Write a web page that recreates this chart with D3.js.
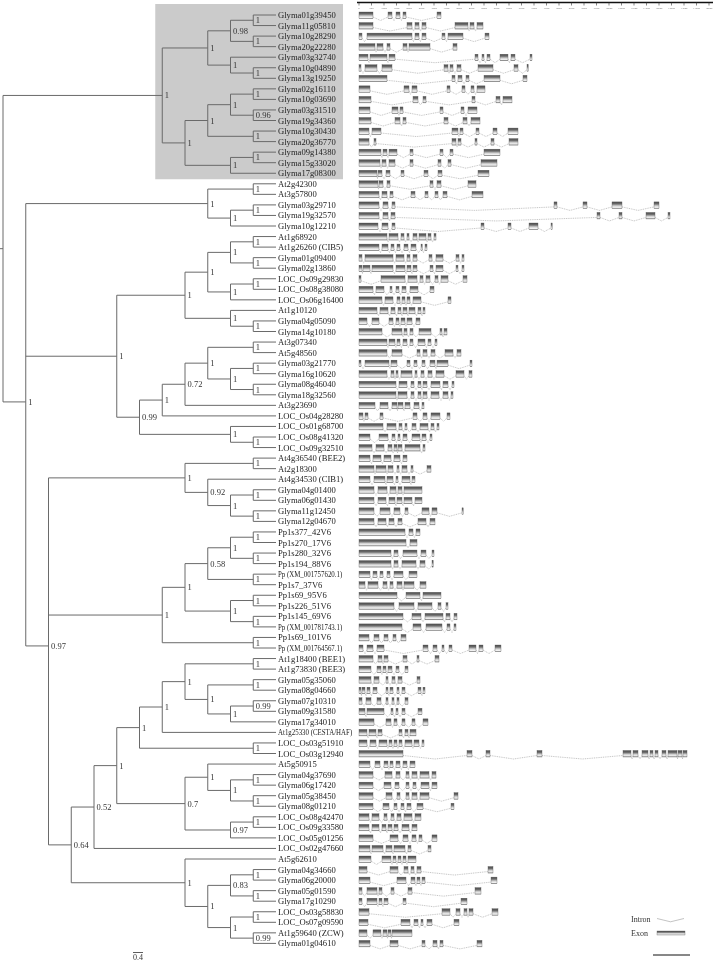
<!DOCTYPE html>
<html><head><meta charset="utf-8">
<script src="https://cdn.jsdelivr.net/npm/d3@7"></script>
<style>
html,body{margin:0;padding:0;background:#fff;}
svg{display:block;will-change:transform;}
text{font-family:"Liberation Serif","Times New Roman",serif;-webkit-font-smoothing:antialiased;}
</style></head>
<body>
<svg id="chart" width="720" height="961"></svg>
<script>
// ---------------- DATA ----------------
const leafNames = [
"Glyma01g39450","Glyma11g05810","Glyma10g28290","Glyma20g22280","Glyma03g32740","Glyma10g04890","Glyma13g19250","Glyma02g16110","Glyma10g03690","Glyma03g31510","Glyma19g34360","Glyma10g30430","Glyma20g36770","Glyma09g14380","Glyma15g33020","Glyma17g08300",
"At2g42300","At3g57800","Glyma03g29710","Glyma19g32570","Glyma10g12210",
"At1g68920","At1g26260 (CIB5)","Glyma01g09400","Glyma02g13860","LOC_Os09g29830","LOC_Os08g38080","LOC_Os06g16400","At1g10120","Glyma04g05090","Glyma14g10180",
"At3g07340","At5g48560","Glyma03g21770","Glyma16g10620","Glyma08g46040","Glyma18g32560","At3g23690","LOC_Os04g28280","LOC_Os01g68700","LOC_Os08g41320","LOC_Os09g32510",
"At4g36540 (BEE2)","At2g18300","At4g34530 (CIB1)","Glyma04g01400","Glyma06g01430","Glyma11g12450","Glyma12g04670",
"Pp1s377_42V6","Pp1s270_17V6","Pp1s280_32V6","Pp1s194_88V6","Pp (XM_001757620.1)","Pp1s7_37V6","Pp1s69_95V6","Pp1s226_51V6","Pp1s145_69V6","Pp (XM_001781743.1)","Pp1s69_101V6","Pp (XM_001764567.1)",
"At1g18400 (BEE1)","At1g73830 (BEE3)","Glyma05g35060","Glyma08g04660","Glyma07g10310","Glyma09g31580","Glyma17g34010","At1g25330 (CESTA/HAF)","LOC_Os03g51910","LOC_Os03g12940",
"At5g50915","Glyma04g37690","Glyma06g17420","Glyma05g38450","Glyma08g01210","LOC_Os08g42470","LOC_Os09g33580","LOC_Os05g01256","LOC_Os02g47660",
"At5g62610","Glyma04g34660","Glyma06g20000","Glyma05g01590","Glyma17g10290","LOC_Os03g58830","LOC_Os07g09590","At1g59640 (ZCW)","Glyma01g04610"
];

// Tree topology (leaf = index into leafNames) with posterior support values
const cladeG1 = "(((0,1)1,(2,3)1)0.98,(4,(5,6)1)1)1";
const cladeG2 = "((((7,8)1,(9,10)0.96)1,(11,12)1)1,((13,14)1,15)1)1";
const cladeB  = "((16,17)1,((18,19)1,20)1)1";
const cladeC1 = "((((21,22)1,(23,24)1)1,((25,26)1,27)1)1,(28,(29,30)1)1)1";
const cladeC2 = "(((((31,32)1,((33,34)1,(35,36)1)1)1,37)0.72,38)1,(39,(40,41)1)1)0.99";
const cladeE  = "((42,43)1,(44,((45,46)1,(47,48)1)1)0.92)1";
const cladeF  = "(((((49,50)1,(51,52)1)1,(53,54)1)0.58,((55,56)1,(57,58)1)1)1,(59,60)1)1";
const cladeH1a1 = "((((61,62)1,((63,64)1,((65,66)0.99,67)1)1)1,68)1,(69,70)1)1";
const cladeH1a2 = "((71,((72,73)1,(74,75)1)1)1,((76,77)1,78)0.97)0.7";
const cladeH2 = "(80,(((81,82)1,(83,84)1)0.83,((85,86)1,(87,88)0.99)1)1)1";
const treeNewick = `((${cladeG1},${cladeG2})1,(${cladeB},(${cladeC1},${cladeC2})1,(${cladeE},${cladeF},(((${cladeH1a1},${cladeH1a2})1,79)0.52,${cladeH2})0.64)0.97)1)`;

// Gene structures: exon [start,end] pairs in bp, one list per leaf (same order)
const geneExons = [
[0,560,1160,1320,1480,1640,1760,1880,3120,3280],
[0,560,1920,2120,2240,2400,2520,2680,3840,4360,4440,4600,4720,4960],
[0,120,320,2120,2240,2400,2520,2680,3320,3440,3560,4160,5040,5200],
[0,640,720,960,1120,1240,1760,1920,2000,2840,3760,3920],
[0,360,440,1120,1200,1440,4640,4760,4920,5000,5120,5240,5640,5960,6080,6240,6840,6920],
[0,80,240,720,920,1320,3400,3560,3640,3760,3920,4080,4760,5360,6200,6360,6720,6760],
[0,1120,3720,3840,3960,4120,4280,4400,5000,5640,6560,6720],
[0,440,1800,2000,2120,2320,3520,3640,4120,4240,4480,4600,4720,5040],
[0,480,2160,2360,2560,2680,4520,4640,5480,5640,5760,6120],
[0,440,1320,1560,1640,1760,3240,3360,4080,4200,4360,4720],
[0,480,1440,1640,1760,1880,3400,3560,4160,4320,4480,4840],
[0,400,520,880,3720,3960,4040,4160,4680,4800,5360,5520,5960,6360],
[0,400,600,680,3720,3880,3960,4080,4640,4720,5280,5400,6000,6360],
[0,880,960,1120,1200,1520,2040,2160,3240,3360,3640,3760,5000,5640],
[0,840,920,1080,1200,1440,2040,2160,3160,3280,3560,3680,4880,5520],
[0,720,760,920,1080,1240,1680,1800,2600,2760,3160,3320,4760,5200],
[0,760,800,960,1120,1240,2840,2960,3120,3280,4360,4680],
[0,800,920,1120,1240,1360,2080,2240,2640,2760,3040,3160,3360,3520,4520,4960],
[0,800,960,1160,1320,1440,7800,7920,8960,9120,10120,10520,11800,12000],
[0,800,960,1160,1280,1440,9520,9640,10400,10520,11480,11840,12360,12440],
[0,760,920,1160,1320,1440,4880,5000,5960,6080,6800,7160,7680,7720],
[0,1120,1200,1560,1680,1800,1920,2000,2160,2320,2400,2680,2760,2880,3000,3080],
[0,800,920,1160,1280,1400,1520,1640,1800,1960,2080,2280,2480,2520,2640,2720],
[0,120,240,1360,1480,1800,1920,2040,2160,2320,2800,2920,3080,3360,3880,4000,4120,4200],
[0,120,160,440,520,1360,1480,1840,1920,2080,2160,2320,2840,2960,3080,3360,3880,3960,4120,4200],
[0,80,880,1840,1960,2320,2440,2560,2680,2840,3040,3160,3280,3560,4160,4320],
[0,560,680,1000,1240,1320,1480,1600,1720,1880,2040,2360,2840,3000],
[0,920,1040,1360,1520,1640,1720,1840,1920,2040,2160,2480,3560,3680],
[0,720,840,1160,1280,1440,1560,1680,1760,1920,2000,2240,2360,2480,2560,2640],
[0,320,520,800,1200,1360,1480,1600,1680,1840,1920,2120,2280,2440],
[0,920,1320,1720,1800,1920,2040,2160,2400,2880,3240,3320,3400,3520],
[0,1120,1200,1440,1520,1640,1760,1920,2040,2160,2360,2640,2760,2880,3040,3120],
[0,1120,1320,1720,2320,2440,2560,2720,2880,3040,3440,3760,3920,4080],
[0,80,240,1200,1280,1520,1920,2040,2200,2320,2520,2640,2840,3040,3120,3560,4440,4520],
[0,1120,1280,1400,1480,1560,1680,2120,2240,2320,2480,2600,2760,2920,3080,3400,3880,4200,4400,4520],
[0,1480,1600,1920,2080,2200,2360,2480,2560,2720,2880,3240,3360,3560,3720,3800],
[0,1480,1560,1920,2080,2200,2360,2480,2560,2720,2880,3200,3360,3560,3680,3760],
[0,640,840,1160,1320,1520,1560,1760,1840,2040,2200,2400,2520,2600],
[0,160,240,360,840,960,2160,2320,2560,2720,2880,3240,3520,3640],
[0,960,1120,1480,1600,1720,1840,1920,2120,2280,2440,2760,2880,3000,3120,3200],
[0,440,800,1160,1320,1440,1560,1640,1760,1920,2120,2440,2520,2680,2840,2920],
[0,520,680,1000,1160,1320,1400,1520,1560,1720,1840,2440,2560,2640],
[0,440,560,880,1000,1280,1400,1640,1760,1920],
[0,600,680,1080,1160,1360,1520,1600,1720,1920,2080,2160,2720,2880],
[0,440,600,1040,1120,1360,1480,1560,1720,2040,2120,2240],
[0,600,760,1120,1240,1480,1560,1720,1800,2520],
[0,600,760,1080,1200,1440,1520,1720,1800,2120,2240,2520],
[0,600,840,1240,1400,1640,1840,1960,2520,2800,2920,3120,4120,4160],
[0,600,760,1080,1200,1400,1560,1720,2360,2680,2840,3040],
[0,1840,2000,2160,2280,2440],
[0,1880,2040,2320],
[0,1280,1400,1560,1760,2320,2480,2680,2920,3000],
[0,1280,1400,1560,1720,2280,2440,2640,2920,2960],
[0,440,560,720,840,960,1120,1240,1400,1760,2000,2320],
[0,240,360,760,960,1120,1240,1360,1520,1720,1800,2200,2440,2680],
[0,1520,1880,2440,2560,3280],
[0,1400,1600,2200,2360,2920,3160,3280,3480,3560],
[0,1760,2120,2480,2640,3360,3480,3640,3800,3920],
[0,1720,2160,2480,2680,3320,3520,3640,3800,3880],
[0,400,600,800,1000,1160,1360,1480,1680,1880],
[0,160,320,560,720,1000,2560,2760,2960,3120,3320,3400,3600,3720,4400,4680,4800,4960,5440,5680],
[0,560,760,920,1000,1160,1760,1920,2320,2400,3040,3200],
[0,480,720,880,960,1080,1160,1320,1480,1600,1840,1960],
[0,480,600,800,1080,1160,1320,1440,1560,1720,2320,2440],
[0,80,120,240,320,440,560,720,1080,1160,1240,1360,1520,1600,1720,1840,2360,2480,2560,2640],
[0,120,280,480,720,880,1080,1160,1320,1400,1520,1600,1840,1960],
[0,240,320,1000,1280,1360,1480,1560,1720,1840,2360,2520],
[0,600,1080,1280,1400,1520,1720,1840,2120,2240,2560,2760],
[0,320,400,680,760,920,1600,1720,1840,1960,2040,2280],
[0,320,440,680,800,1120,1200,1320,1400,1520,1600,1720,1840,2120,2200,2400,2520,2600],
[0,1760,4320,4520,5080,5240,7120,7320,10560,10880,10960,11160,11320,11560,11640,11760,11840,11960,12120,12280,12360,12720,12760,12920,12960,13120],
[0,440,640,840,1000,1160,1240,1360,1480,1640,1760,1920,2040,2240],
[0,560,1040,1320,1480,1640,1880,2000,2120,2320,2440,2800,2920,3080],
[0,560,1000,1280,1440,1600,1880,2000,2160,2280,2480,2800,2920,3120],
[0,560,1080,1320,1520,1640,1880,2000,2120,2320,2440,2800,3800,3960],
[0,560,960,1200,1400,1520,1680,1800,1920,2080,2320,2560,3680,3800],
[0,400,520,800,1000,1120,1280,1400,1520,1680,1800,2120,2240,2480],
[0,400,520,800,920,1080,1160,1320,1400,1560,1720,2000,2120,2320],
[0,560,1240,1560,1760,1960,2120,2280,2400,2520,2920,3120],
[0,440,520,960,1080,1320,1400,1840,1960,2080,2760,2880],
[0,480,920,1280,1360,1480,1560,1680,1760,1880,1960,2280],
[0,320,1240,1560,1800,1960,2080,2200,2320,2480,5160,5360],
[0,440,1520,1880,2080,2240,2320,2440,2520,2640,5280,5520],
[0,120,320,720,800,920,1280,1400,1960,2120,4640,4880],
[0,120,320,720,800,920,1000,1160,1760,1880,4080,4320],
[0,400,3320,3640,3880,4040,4200,4320,4400,4560,5320,5560],
[0,360,1680,2040,2200,2360,2480,2560,2720,2920,3800,4000],
[0,320,560,880,960,1120,1160,1280,1320,2120],
[0,440,1240,1560,2520,2640,2960,3120,3240,3360,4720,4920]
];

const rulerMaxBp = 14160;
const rulerStepBp = 500;
const treeScaleLabel = "0.4";
const legendItems = ["Intron","Exon"];

// ---------------- PARSE TREE ----------------
function parseNewick(str){
  let i = 0;
  function node(){
    if (str[i] === "("){
      i++;
      const children = [node()];
      while (str[i] === ","){ i++; children.push(node()); }
      i++; // ')'
      const m = /^[0-9.]+/.exec(str.slice(i));
      let support = null;
      if (m){ support = m[0]; i += m[0].length; }
      return {children, support};
    } else {
      const m = /^\d+/.exec(str.slice(i));
      i += m[0].length;
      return {leaf: +m[0]};
    }
  }
  return node();
}

const root = d3.hierarchy(parseNewick(treeNewick), d => d.children);

// ---------------- SCALES ----------------
const leafX = 276;
const xTree = d3.scaleLinear().domain([root.height, 0]).range([3, leafX]);
const yLeaf = d3.scaleLinear().domain([0, leafNames.length - 1]).range([15, 943.4]);
const xGene = d3.scaleLinear().domain([0, rulerMaxBp]).range([359, 713]);

root.eachAfter(n => {
  n.px = xTree(n.height);
  if (!n.children) n.py = yLeaf(n.data.leaf);
  else n.py = d3.mean(n.children, c => c.py);
});

const svg = d3.select("#chart");

// gradient for exons
const defs = svg.append("defs");
const grad = defs.append("linearGradient").attr("id","exonGrad").attr("x1",0).attr("y1",0).attr("x2",0).attr("y2",1);
[[0,"#4a4a4a"],[0.3,"#6c6c6c"],[0.62,"#d4d4d4"],[0.85,"#f2f2f2"],[1,"#7a7a7a"]].forEach(([o,c]) =>
  grad.append("stop").attr("offset",o).attr("stop-color",c));

// gray highlight box around first clade
const cladeGnode = root.children[0];
const boxLeaves = cladeGnode.leaves();
svg.append("rect")
  .attr("x", cladeGnode.px - 7)
  .attr("y", d3.min(boxLeaves, d => d.py) - 11)
  .attr("width", 343 - (cladeGnode.px - 7))
  .attr("height", d3.max(boxLeaves, d => d.py) + 6 - (d3.min(boxLeaves, d => d.py) - 11))
  .attr("fill", "#cbcbcb");

// ---------------- TREE ----------------
const gTree = svg.append("g").attr("stroke","#6a6a6a").attr("stroke-width",1).attr("fill","none");
gTree.append("line").attr("x1",0).attr("x2",root.px).attr("y1",root.py).attr("y2",root.py);
root.descendants().forEach(n => {
  if (n.parent){
    gTree.append("line").attr("x1",n.parent.px).attr("x2",n.px).attr("y1",n.py).attr("y2",n.py);
  }
  if (n.children){
    const ys = n.children.map(c => c.py);
    gTree.append("line").attr("x1",n.px).attr("x2",n.px).attr("y1",d3.min(ys)).attr("y2",d3.max(ys));
  }
});

// support values
svg.append("g").attr("opacity",0.999).selectAll("text")
  .data(root.descendants().filter(n => n.children && n.data.support))
  .join("text")
  .attr("x", n => n.px + 2.5)
  .attr("y", n => n.py + 3)
  .attr("font-size", 8.5)
  .attr("fill", "#333")
  .text(n => n.data.support);

// leaf labels (long accession labels are condensed, as in the original figure)
const isCondensed = name => /XM_|CESTA/.test(name);
svg.append("g").attr("opacity",0.999).selectAll("text")
  .data(root.leaves())
  .join("text")
  .attr("x", leafX + 2)
  .attr("y", n => n.py + 3)
  .attr("font-size", n => isCondensed(leafNames[n.data.leaf]) ? 8 : 8.6)
  .attr("fill", "#222")
  .text(n => leafNames[n.data.leaf])
  .each(function(n){
    if (isCondensed(leafNames[n.data.leaf])){
      const w = this.getComputedTextLength();
      d3.select(this).attr("textLength", w * 0.86).attr("lengthAdjust","spacingAndGlyphs");
    }
  });

// tree scale bar
svg.append("line").attr("x1",133).attr("x2",143).attr("y1",952.5).attr("y2",952.5).attr("stroke","#333").attr("stroke-width",0.8);
svg.append("text").attr("x",138).attr("y",960).attr("text-anchor","middle").attr("font-size",8).attr("fill","#333").text(treeScaleLabel);

// ---------------- RULER ----------------
const ruler = svg.append("g").attr("transform","translate(0,2.5)");
ruler.append("line").attr("x1",xGene(0)-2).attr("x2",xGene(rulerMaxBp)).attr("y1",0).attr("y2",0).attr("stroke","#111").attr("stroke-width",1.6);
const rTicks = d3.range(0, rulerMaxBp + 1, rulerStepBp);
ruler.selectAll("line.t").data(rTicks).join("line").attr("class","t")
  .attr("x1",d=>xGene(d)).attr("x2",d=>xGene(d)).attr("y1",0).attr("y2",3)
  .attr("stroke","#333").attr("stroke-width",0.6);
ruler.selectAll("text").data(rTicks).join("text")
  .attr("x",d=>xGene(d)).attr("y",6.5).attr("text-anchor","middle")
  .attr("font-size",2.8).attr("fill","#777").text(d=>d);

// ---------------- GENE STRUCTURES ----------------
const gGenes = svg.append("g");
root.leaves().forEach(n => {
  const arr = geneExons[n.data.leaf];
  const y = n.py;
  const ex = [];
  for (let k = 0; k < arr.length; k += 2) ex.push([arr[k], arr[k+1]]);
  for (let k = 0; k < ex.length - 1; k++){
    const x1 = xGene(ex[k][1]), x2 = xGene(ex[k+1][0]);
    gGenes.append("path")
      .attr("d", `M${x1},${y+2}L${(x1+x2)/2},${y+5.5}L${x2},${y+2}`)
      .attr("fill","none").attr("stroke","#9a9a9a").attr("stroke-width",0.6).attr("stroke-dasharray","1,0.8");
  }
  ex.forEach(([s,e]) => {
    gGenes.append("rect")
      .attr("x", xGene(s)).attr("y", y - 3)
      .attr("width", Math.max(1.2, xGene(e) - xGene(s))).attr("height", 6.5)
      .attr("fill","url(#exonGrad)").attr("stroke","#5a5a5a").attr("stroke-width",0.35);
  });
});

// ---------------- LEGEND ----------------
const lg = svg.append("g").attr("opacity",0.999);
lg.append("text").attr("x",631).attr("y",922).attr("font-size",8).attr("fill","#333").text(legendItems[0]);
lg.append("path").attr("d","M657,918.5L670.5,921.8L684,918.5").attr("fill","none").attr("stroke","#9a9a9a").attr("stroke-width",0.6);
lg.append("text").attr("x",631).attr("y",936).attr("font-size",8).attr("fill","#333").text(legendItems[1]);
lg.append("rect").attr("x",657).attr("y",931).attr("width",28).attr("height",4).attr("fill","url(#exonGrad)").attr("stroke","#5a5a5a").attr("stroke-width",0.35);
svg.append("line").attr("x1",653).attr("x2",690).attr("y1",955).attr("y2",955).attr("stroke","#111").attr("stroke-width",1);
</script>
</body></html>
